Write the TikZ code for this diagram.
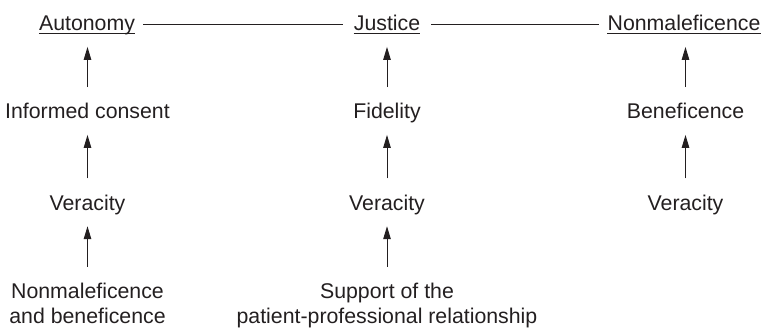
\documentclass[tikz,border=0pt]{standalone}
\usepackage{fontspec}
\setmainfont{Liberation Sans}
\usetikzlibrary{arrows.meta}
\definecolor{ink}{RGB}{35,31,32}
\begin{document}
\begin{tikzpicture}[x=1pt,y=-1pt,
  lbl/.style={inner sep=0pt, text=ink, font=\fontsize{21.3pt}{25pt}\selectfont,
              text height=15.5pt, text depth=4.5pt, anchor=base},
  two/.style={inner sep=0pt, text=ink, font=\fontsize{21.3pt}{25pt}\selectfont,
              align=center, anchor=north},
  link/.style={draw=ink, line width=1pt},
  up/.style={draw=ink, line width=1pt, -{Triangle[length=13pt,width=7.5pt]},
             shorten <=16pt, shorten >=11.5pt}]
  \useasboundingbox (0,0) rectangle (765,327);

  % top row: the three principles
  \node[lbl] (aut) at (87,30.7) {Autonomy};
  \node[lbl] (jus) at (387,30.7) {Justice};
  \node[lbl] (non) at (684,30.7) {Nonmaleficence};

  % underlines
  \foreach \n in {aut,jus,non}
    \draw[link] ([yshift=-2.4pt]\n.base west) -- ([yshift=-2.4pt]\n.base east);

  % horizontal connectors between the principles
  \draw[link] ([xshift=8pt,yshift=6.7pt]aut.base east) -- ([xshift=-11pt,yshift=6.7pt]jus.base west);
  \draw[link] ([xshift=11pt,yshift=6.7pt]jus.base east) -- ([xshift=-8pt,yshift=6.7pt]non.base west);

  % second row
  \node[lbl] (inf) at (87.5,118.7) {Informed consent};
  \node[lbl] (fid) at (387,118.7) {Fidelity};
  \node[lbl] (ben) at (685.5,118.7) {Beneficence};

  % third row
  \node[lbl] (verA) at (87.5,210) {Veracity};
  \node[lbl] (verB) at (387,210) {Veracity};
  \node[lbl] (verC) at (685.5,210) {Veracity};

  % bottom row
  \node[two] (nab) at (87.5,282.7) {Nonmaleficence\\and beneficence};
  \node[two] (sup) at (387,282.7) {Support of the\\patient-professional relationship};

  % vertical arrows, each kept straight up from the lower node
  \draw[up] (inf.north) -- (inf.north |- aut.south);
  \draw[up] (fid.north) -- (fid.north |- jus.south);
  \draw[up] (ben.north) -- (ben.north |- non.south);
  \draw[up] (verA.north) -- (inf.south);
  \draw[up] (verB.north) -- (fid.south);
  \draw[up] (verC.north) -- (ben.south);
  \draw[up] (nab.north) -- (verA.south);
  \draw[up] (sup.north) -- (verB.south);
\end{tikzpicture}
\end{document}
